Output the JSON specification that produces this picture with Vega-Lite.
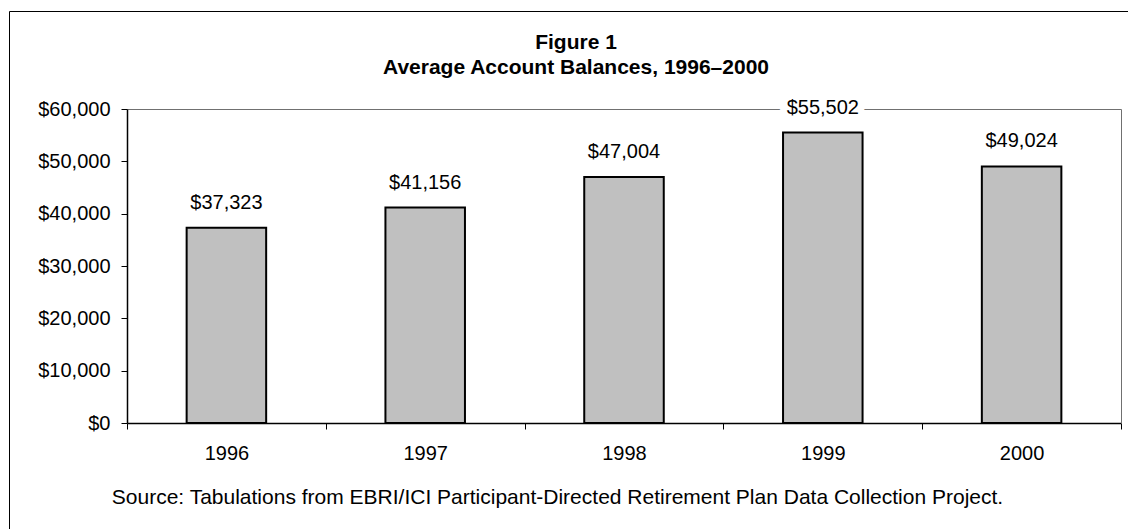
{
  "$schema": "https://vega.github.io/schema/vega-lite/v6.json",
  "width": 1134,
  "height": 530,
  "autosize": {"type": "none"},
  "padding": {"left": 9, "top": 11, "right": -15, "bottom": -12},
  "background": "white",
  "config": {
    "view": {"stroke": "#000", "strokeWidth": 1},
    "font": "Liberation Sans"
  },
  "title": {
    "text": ["Figure 1", "Average Account Balances, 1996–2000"],
    "anchor": "middle",
    "frame": "group",
    "orient": "top",
    "offset": -67,
    "lineHeight": 25,
    "fontSize": 21,
    "fontWeight": "bold",
    "color": "#000",
    "font": "Liberation Sans"
  },
  "data": {
    "values": [
      {"year": "1996", "balance": 37323},
      {"year": "1997", "balance": 41156},
      {"year": "1998", "balance": 47004},
      {"year": "1999", "balance": 55502},
      {"year": "2000", "balance": 49024}
    ]
  },
  "encoding": {
    "x": {
      "field": "year",
      "type": "ordinal",
      "scale": {"range": [118, 1112], "paddingInner": 0, "paddingOuter": 0},
      "axis": {
        "orient": "bottom",
        "offset": -118,
        "tickBand": "extent",
        "labelAngle": 0,
        "labelFontSize": 20,
        "labelFont": "Liberation Sans",
        "labelColor": "#000",
        "labelPadding": 14,
        "tickSize": 6,
        "tickColor": "#000",
        "tickWidth": 1,
        "domainColor": "#000",
        "domainWidth": 1.5,
        "grid": false,
        "title": "Source: Tabulations from EBRI/ICI Participant-Directed Retirement Plan Data Collection Project.",
        "titleFontSize": 21,
        "titleFont": "Liberation Sans",
        "titleFontWeight": "normal",
        "titleColor": "#000",
        "titleX": 548,
        "titleY": 80,
        "titleBaseline": "alphabetic",
        "titleAlign": "center"
      }
    }
  },
  "layer": [
    {
      "mark": {"type": "bar", "width": {"band": 0.4}, "fill": "#C0C0C0", "stroke": "#000", "strokeWidth": 2},
      "encoding": {
        "y": {
          "field": "balance",
          "type": "quantitative",
          "scale": {"domain": [0, 60000], "nice": false, "range": [412, 98]},
          "axis": {
            "orient": "left",
            "offset": -118,
            "values": [0, 10000, 20000, 30000, 40000, 50000, 60000],
            "format": "$,.0f",
            "labelFontSize": 20,
            "labelFont": "Liberation Sans",
            "labelColor": "#000",
            "labelPadding": 11,
            "tickSize": 6,
            "tickColor": "#000",
            "domainColor": "#000",
            "domainWidth": 1.5,
            "title": null,
            "grid": true,
            "gridColor": "#707070",
            "gridWidth": 1,
            "gridOpacity": {"condition": {"test": "datum.value === 60000", "value": 1}, "value": 0}
          }
        }
      }
    },
    {
      "mark": {"type": "text", "dy": -19, "baseline": "alphabetic", "fontSize": 20, "font": "Liberation Sans", "fill": "white", "stroke": "white", "strokeWidth": 14, "strokeJoin": "round"},
      "encoding": {
        "y": {
          "field": "balance",
          "type": "quantitative",
          "axis": {
            "orient": "right",
            "offset": -22,
            "domainColor": "#707070",
            "domainWidth": 1,
            "ticks": false,
            "labels": false,
            "grid": false,
            "title": null
          }
        },
        "text": {"field": "balance", "type": "quantitative", "format": "$,.0f"}
      }
    },
    {
      "mark": {"type": "text", "dy": -19, "baseline": "alphabetic", "fontSize": 20, "font": "Liberation Sans", "fill": "#000"},
      "encoding": {
        "y": {"field": "balance", "type": "quantitative", "axis": null},
        "text": {"field": "balance", "type": "quantitative", "format": "$,.0f"}
      }
    }
  ],
  "resolve": {"axis": {"y": "independent"}}
}
